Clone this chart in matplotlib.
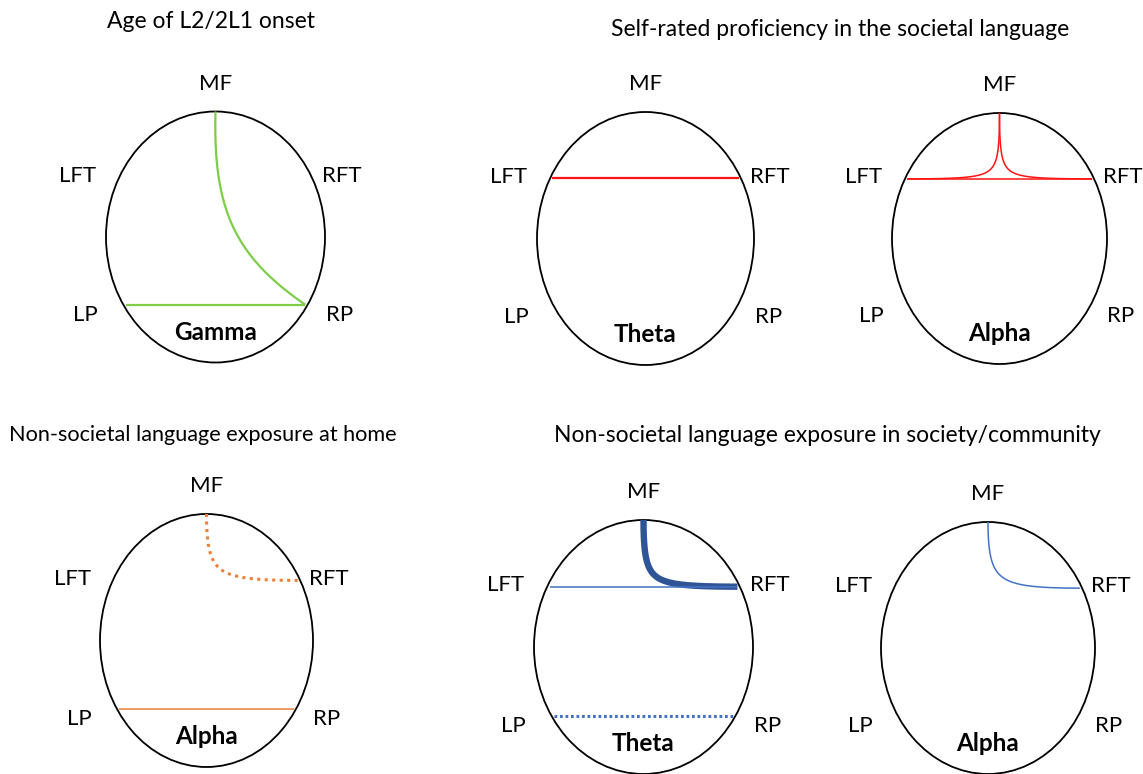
import numpy as np
import matplotlib
matplotlib.use("Agg")
import matplotlib.pyplot as plt
from matplotlib.patches import Ellipse

# ---------------- data ----------------
electrodes = ["MF", "LFT", "RFT", "LP", "RP"]

titles = [
    "Age of L2/2L1 onset",
    "Self-rated proficiency in the societal language",
    "Non-societal language exposure at home",
    "Non-societal language exposure in society/community",
]

bands = ["Gamma", "Theta", "Alpha", "Alpha", "Theta", "Alpha"]

# connections per head: (from, to, line kind)
conn_age_gamma = [("MF", "RP", "solid"), ("LP", "RP", "solid")]
conn_prof_theta = [("LFT", "RFT", "solid")]
conn_prof_alpha = [("MF", "LFT", "solid"), ("MF", "RFT", "solid"), ("LFT", "RFT", "solid")]
conn_home_alpha = [("MF", "RFT", "dotted"), ("LP", "RP", "solid")]
conn_comm_theta = [("MF", "RFT", "thick"), ("LFT", "RFT", "solid"), ("LP", "RP", "dotted")]
conn_comm_alpha = [("MF", "RFT", "solid")]

connections = [conn_age_gamma, conn_prof_theta, conn_prof_alpha,
               conn_home_alpha, conn_comm_theta, conn_comm_alpha]

# ---------------- layout / styles ----------------
W, H = 1143, 774
fig = plt.figure(figsize=(W / 100, H / 100), dpi=100)
ax = fig.add_axes([0, 0, 1, 1])
ax.set_xlim(0, W)
ax.set_ylim(H, 0)
ax.axis("off")

FONT = ["Lato", "DejaVu Sans"]

heads = [
    dict(c=(215.5, 237), w=219, h=251),
    dict(c=(645.5, 238.5), w=217, h=253),
    dict(c=(999.5, 238.5), w=215, h=251),
    dict(c=(206.5, 640.5), w=213, h=253),
    dict(c=(643.5, 647.0), w=219, h=254),
    dict(c=(988.0, 648.0), w=214, h=252),
]
head_colors = ["#7dcd48", "#ff1414", "#ff1414", "#ee7f36", "#4472c4", "#4472c4"]
thick_color = "#2f5597"
label_offsets = {
    "MF": (0.0, -0.61),
    "LFT": (-0.63, -0.245),
    "RFT": (0.575, -0.245),
    "LP": (-0.595, 0.31),
    "RP": (0.565, 0.31),
}
band_dy = 0.38
title_pos = [(211, 22), (840, 29), (203, 435), (827, 435)]
title_sizes = [16.5, 16.5, 15.6, 16.5]

FRONT_F, PAR_F = 0.475, 0.54


def anchor(hd, name):
    cx, cy = hd["c"]
    a, b = hd["w"] / 2, hd["h"] / 2
    if name == "MF":
        return np.array([cx, cy - b])
    f = FRONT_F if name in ("LFT", "RFT") else PAR_F
    sgn_y = -1 if name in ("LFT", "RFT") else 1
    sgn_x = -1 if name.startswith("L") else 1
    x = cx + sgn_x * a * np.sqrt(1 - f ** 2) * 0.975
    y = cy + sgn_y * b * f
    return np.array([x, y])


def rational_bezier(p0, p1, p2, w, n=150):
    t = np.linspace(0, 1, n)[:, None]
    num = (1 - t) ** 2 * p0 + 2 * w * t * (1 - t) * p1 + t ** 2 * p2
    den = (1 - t) ** 2 + 2 * w * t * (1 - t) + t ** 2
    pts = num / den
    return pts[:, 0], pts[:, 1]


def cubic_bezier(p0, p1, p2, p3, n=150):
    t = np.linspace(0, 1, n)[:, None]
    pts = ((1 - t) ** 3 * p0 + 3 * t * (1 - t) ** 2 * p1
           + 3 * t ** 2 * (1 - t) * p2 + t ** 3 * p3)
    return pts[:, 0], pts[:, 1]


for i, (hd, conns) in enumerate(zip(heads, connections)):
    cx, cy = hd["c"]
    ax.add_patch(Ellipse((cx, cy), hd["w"], hd["h"], fill=False,
                         edgecolor="black", lw=1.3, zorder=2))
    for e in electrodes:
        fx, fy = label_offsets[e]
        ax.text(cx + fx * hd["w"], cy + fy * hd["h"], e, ha="center", va="center",
                fontsize=16, family=FONT, color="black")
    ax.text(cx, cy + band_dy * hd["h"], bands[i], ha="center", va="center",
            fontsize=17.5, family=FONT, fontweight="bold", color="black")

    col = head_colors[i]
    for (a_, b_, kind) in conns:
        p0 = anchor(hd, a_)
        p2 = anchor(hd, b_)
        kw = dict(color=col, zorder=3, solid_capstyle="butt")
        if kind == "thick":
            kw.update(lw=4.6, color=thick_color)
        elif kind == "dotted":
            kw.update(lw=2.2, dashes=(0.9, 0.9) if i == 4 else (1.0, 1.45))
        else:
            kw.update(lw=1.6 if i in (0, 1) else 1.1)
        if a_ == "MF":
            if b_ in ("RP", "LP"):
                d = p2 - p0
                c1 = p0 + np.array([-0.03 * d[0], 0.51 * d[1]])
                c2 = p0 + np.array([0.22 * d[0], 0.75 * d[1]])
                xs, ys = cubic_bezier(p0, c1, c2, p2)
            else:
                p1 = np.array([p0[0], p2[1]])
                wgt = 3.2 if i == 2 else (2.5 if kind == "thick" else 2.1)
                xs, ys = rational_bezier(p0, p1, p2, wgt)
            ax.plot(xs, ys, **kw)
        else:
            ax.plot([p0[0], p2[0]], [p0[1], p2[1]], **kw)

for t, (x, y), s in zip(titles, title_pos, title_sizes):
    ax.text(x, y, t, ha="center", va="center", fontsize=s, family=FONT, color="black")

fig.savefig("out.png", dpi=100, facecolor="white")
